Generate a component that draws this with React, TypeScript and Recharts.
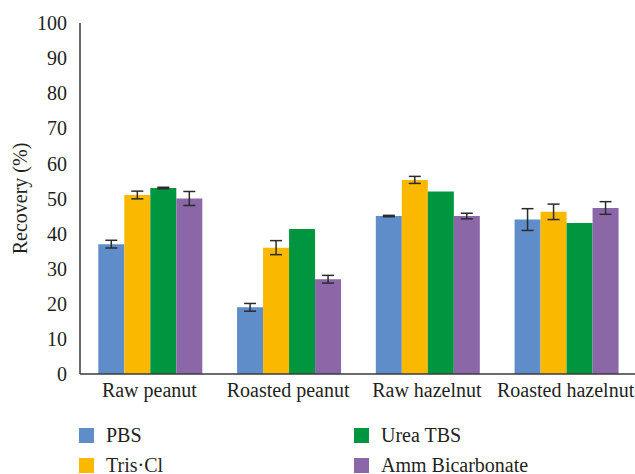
import { Bar, BarChart, ErrorBar, Legend, XAxis, YAxis } from "recharts";

const categories = ["Raw peanut", "Roasted peanut", "Raw hazelnut", "Roasted hazelnut"];

const pbs = [37, 19, 45, 44];
const pbsErr = [1.1, 1.1, 0.2, 3.1];
const trisCl = [51, 36, 55.3, 46.2];
const trisClErr = [1.1, 2, 1, 2.2];
const ureaTbs = [53, 41.3, 52, 43];
const ureaTbsErr = [0.2, 0, 0, 0];
const ammBicarb = [50, 27, 45, 47.3];
const ammBicarbErr = [2, 1.1, 0.8, 1.8];

const seriesNames = ["PBS", "Tris·Cl", "Urea TBS", "Amm Bicarbonate"];
const yTicks = [0, 10, 20, 30, 40, 50, 60, 70, 80, 90, 100];

const data = categories.map((name, i) => ({
  name,
  pbs: pbs[i],
  pbsErr: pbsErr[i],
  tris: trisCl[i],
  trisErr: trisClErr[i],
  urea: ureaTbs[i],
  ureaErr: ureaTbsErr[i],
  amm: ammBicarb[i],
  ammErr: ammBicarbErr[i],
}));

const FONT = "'Liberation Serif', 'Times New Roman', serif";
const AXIS = "#3a3a3a";
const TEXT = "#231f20";

// legend laid out in two columns, filled top-to-bottom
const renderLegend = (props: any) => {
  const items = [...(props.payload || [])].sort(
    (a: any, b: any) => seriesNames.indexOf(a.value) - seriesNames.indexOf(b.value)
  );
  return (
    <div
      style={{
        display: "grid",
        gridAutoFlow: "column",
        gridTemplateRows: "30px 30px",
        gridTemplateColumns: "275px 250px",
        fontFamily: FONT,
        fontSize: 20,
        color: TEXT,
      }}
    >
      {items.map((it: any) => (
        <div key={it.value} style={{ display: "flex", alignItems: "center" }}>
          <span
            style={{
              width: 15,
              height: 15,
              background: it.color,
              display: "inline-block",
              marginRight: 12,
            }}
          />
          <span>{it.value}</span>
        </div>
      ))}
    </div>
  );
};

export default function App() {
  return (
    <div style={{ position: "absolute", left: 0, top: 0, background: "#fff" }}>
      <BarChart
        width={635}
        height={474}
        data={data}
        margin={{ top: 23, right: 0, left: 0, bottom: 10 }}
        barCategoryGap="13.2%"
        barGap={0}
      >
        <XAxis
          dataKey="name"
          height={30}
          tickLine={false}
          tickMargin={3}
          stroke={AXIS}
          strokeWidth={1.5}
          interval={0}
          tick={{ fontFamily: FONT, fontSize: 20, fill: TEXT }}
        />
        <YAxis
          width={80}
          domain={[0, 100]}
          ticks={yTicks}
          tickLine={false}
          tickMargin={7}
          stroke={AXIS}
          strokeWidth={1.5}
          tick={{ fontFamily: FONT, fontSize: 20, fill: TEXT }}
          label={{
            value: "Recovery (%)",
            angle: -90,
            position: "insideLeft",
            offset: 20,
            style: { fontFamily: FONT, fontSize: 20, fill: TEXT, textAnchor: "middle" },
          }}
        />
        <Legend
          verticalAlign="bottom"
          content={renderLegend}
          wrapperStyle={{ left: 79, top: 420, width: 540 }}
        />
        <Bar dataKey="pbs" name={seriesNames[0]} fill="#5f8dca" isAnimationActive={false}>
          <ErrorBar dataKey="pbsErr" width={6} strokeWidth={1.5} stroke="#2b2b2b" />
        </Bar>
        <Bar dataKey="tris" name={seriesNames[1]} fill="#fbb800" isAnimationActive={false}>
          <ErrorBar dataKey="trisErr" width={6} strokeWidth={1.5} stroke="#2b2b2b" />
        </Bar>
        <Bar dataKey="urea" name={seriesNames[2]} fill="#00963f" isAnimationActive={false}>
          <ErrorBar dataKey="ureaErr" width={6} strokeWidth={1.5} stroke="#2b2b2b" />
        </Bar>
        <Bar dataKey="amm" name={seriesNames[3]} fill="#8c67a8" isAnimationActive={false}>
          <ErrorBar dataKey="ammErr" width={6} strokeWidth={1.5} stroke="#2b2b2b" />
        </Bar>
      </BarChart>
    </div>
  );
}
